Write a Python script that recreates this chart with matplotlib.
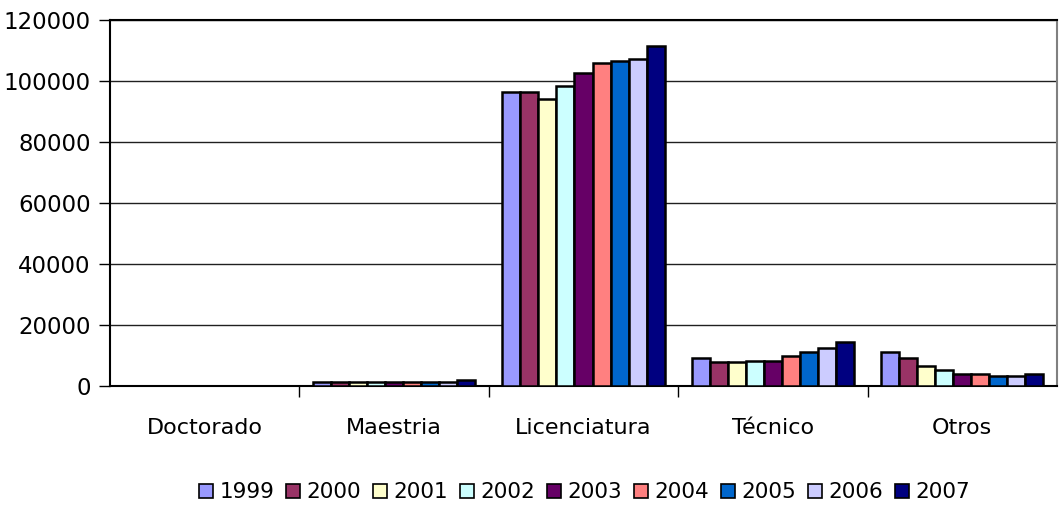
import numpy as np
import matplotlib.pyplot as plt
from matplotlib.patches import Patch

# datos
categorias = ['Doctorado', 'Maestria', 'Licenciatura', 'Técnico', 'Otros']
anios = ['1999', '2000', '2001', '2002', '2003', '2004', '2005', '2006', '2007']

v1999 = [0, 1300, 96500, 9100, 11000]
v2000 = [0, 1300, 96500, 7800, 9100]
v2001 = [0, 1300, 94000, 7800, 6500]
v2002 = [0, 1300, 98500, 8300, 5100]
v2003 = [0, 1300, 102600, 8300, 4000]
v2004 = [0, 1300, 105800, 9700, 4000]
v2005 = [0, 1300, 106400, 11000, 3400]
v2006 = [0, 1300, 107100, 12400, 3400]
v2007 = [0, 2000, 111600, 14300, 4000]
series = [v1999, v2000, v2001, v2002, v2003, v2004, v2005, v2006, v2007]

colores = ['#9999FF', '#993366', '#FFFFCC', '#CCFFFF', '#660066',
           '#FF8080', '#0066CC', '#CCCCFF', '#000080']

plt.rcParams['font.family'] = ['DejaVu Sans']

fig = plt.figure(figsize=(10.61, 5.08), dpi=100)
ax = fig.add_axes([0.1037, 0.2402, 0.8925, 0.7204])

x = np.arange(len(categorias))
n = len(series)
w = 1 / (n + 1.5)
for i, (vals, c) in enumerate(zip(series, colores)):
    ax.bar(x + (i - (n - 1) / 2) * w, vals, width=w, color=c,
           edgecolor='black', linewidth=1.8, zorder=3)

ax.set_xlim(-0.5, len(categorias) - 0.5)
ax.set_ylim(0, 120000)
ax.set_yticks(np.arange(0, 120001, 20000))
ax.yaxis.grid(True, color='#202020', linewidth=1, zorder=0)

# ticks entre categorias, etiquetas en el centro
ax.set_xticks(np.arange(0.5, len(categorias) - 0.5, 1))
ax.set_xticklabels([])
ax.set_xticks(x, minor=True)
ax.set_xticklabels(categorias, minor=True)
ax.tick_params(axis='x', which='major', direction='out', length=8, width=1)
ax.tick_params(axis='x', which='minor', length=0, pad=23, labelsize=16)
ax.tick_params(axis='y', direction='out', length=8, width=1, labelsize=16.5, pad=6)

for s in ['left', 'bottom', 'top']:
    ax.spines[s].set_color('black')
    ax.spines[s].set_linewidth(1.5)
ax.spines['right'].set_color('#808080')
ax.spines['right'].set_linewidth(1.5)

handles = [Patch(facecolor=c, edgecolor='black', linewidth=1.2) for c in colores]
fig.legend(handles, anios, loc='center', bbox_to_anchor=(0.551, 0.031),
           ncol=9, frameon=False, fontsize=15.5, handlelength=0.65,
           handleheight=0.65, handletextpad=0.3, columnspacing=0.55)

fig.savefig('out.png', dpi=100)
